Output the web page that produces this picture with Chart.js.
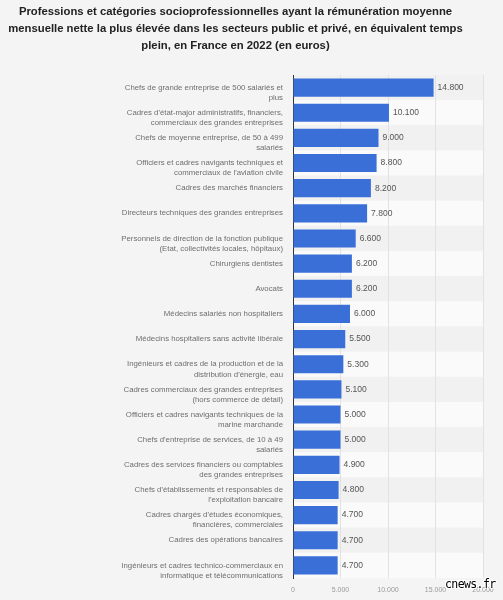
<!DOCTYPE html>
<html>
<head>
<meta charset="utf-8">
<script src="https://cdn.jsdelivr.net/npm/chart.js@4"></script>
<style>
  html, body { margin: 0; padding: 0; background: #f4f4f4; }
  #wrap { position: relative; width: 503px; height: 600px; overflow: hidden; }
  #title { position: absolute; left: 0; top: 3px; width: 471px; text-align: center;
           font-family: "Liberation Sans", Arial, sans-serif; font-weight: bold; font-size: 11.3px;
           line-height: 17.2px; color: #222; }
  #c { position: absolute; left: 0; top: 0; }
  #wm { position: absolute; left: 445px; top: 577px; font-family: "DejaVu Sans Mono", monospace; font-size: 11.5px; color: #000;
        text-shadow: -1px -1px 0 #fff, 1px -1px 0 #fff, -1px 1px 0 #fff, 1px 1px 0 #fff; letter-spacing: -0.6px; }
</style>
</head>
<body>
<div id="wrap">
<canvas id="c" width="503" height="600"></canvas>
<div id="title"></div>
<div id="wm">cnews.fr</div>
</div>
<script>
const titleLines = [
  "Professions et catégories socioprofessionnelles ayant la rémunération moyenne",
  "mensuelle nette la plus élevée dans les secteurs public et privé, en équivalent temps",
  "plein, en France en 2022 (en euros)"
];
const categories = [
  ["Chefs de grande entreprise de 500 salariés et", "plus"],
  ["Cadres d'état-major administratifs, financiers,", "commerciaux des grandes entreprises"],
  ["Chefs de moyenne entreprise, de 50 à 499", "salariés"],
  ["Officiers et cadres navigants techniques et", "commerciaux de l'aviation civile"],
  "Cadres des marchés financiers",
  "Directeurs techniques des grandes entreprises",
  ["Personnels de direction de la fonction publique", "(Etat, collectivités locales, hôpitaux)"],
  "Chirurgiens dentistes",
  "Avocats",
  "Médecins salariés non hospitaliers",
  "Médecins hospitaliers sans activité libérale",
  ["Ingénieurs et cadres de la production et de la", "distribution d'énergie, eau"],
  ["Cadres commerciaux des grandes entreprises", "(hors commerce de détail)"],
  ["Officiers et cadres navigants techniques de la", "marine marchande"],
  ["Chefs d'entreprise de services, de 10 à 49", "salariés"],
  ["Cadres des services financiers ou comptables", "des grandes entreprises"],
  ["Chefs d'établissements et responsables de", "l'exploitation bancaire"],
  ["Cadres chargés d'études économiques,", "financières, commerciales"],
  "Cadres des opérations bancaires",
  ["Ingénieurs et cadres technico-commerciaux en", "informatique et télécommunications"]
];
const salaries = [14800, 10100, 9000, 8800, 8200, 7800, 6600, 6200, 6200, 6000, 5500, 5300, 5100, 5000, 5000, 4900, 4800, 4700, 4700, 4700];
const xTickValues = [0, 5000, 10000, 15000, 20000];

document.getElementById('title').innerHTML = titleLines.join('<br>');

const FONT = "'Liberation Sans', Arial, Helvetica, sans-serif";
function fmt(v) { return String(v).replace(/\B(?=(\d{3})+(?!\d))/g, "."); }
// multi-line labels: first line sits on the bar centre, second line below it
const tickLabels = categories.map(c => Array.isArray(c) ? ["", ...c] : c);

const stripesUnderGrid = {
  id: 'stripesUnderGrid',
  beforeDraw(chart) {
    const {ctx, chartArea: a} = chart;
    if (!a) return;
    const n = categories.length;
    const h = (a.bottom - a.top) / n;
    ctx.save();
    ctx.fillStyle = '#f4f4f4';
    ctx.fillRect(0, 0, chart.width, chart.height);
    for (let i = 0; i < n; i++) {
      ctx.fillStyle = i % 2 === 0 ? '#f1f1f1' : '#fafafa';
      ctx.fillRect(a.left, a.top + i * h, a.right - a.left, h);
    }
    ctx.restore();
  }
};

const valueLabels = {
  id: 'valueLabels',
  afterDatasetsDraw(chart) {
    const {ctx} = chart;
    const meta = chart.getDatasetMeta(0);
    ctx.save();
    ctx.font = "8.5px " + FONT;
    ctx.fillStyle = '#555';
    ctx.textAlign = 'left';
    ctx.textBaseline = 'middle';
    meta.data.forEach((bar, i) => {
      ctx.fillText(fmt(salaries[i]), bar.x + 4, bar.y);
    });
    ctx.restore();
  }
};

new Chart(document.getElementById('c'), {
  type: 'bar',
  data: {
    labels: tickLabels,
    datasets: [{
      data: salaries,
      backgroundColor: '#3a6fd8',
      borderWidth: 0,
      barPercentage: 0.72,
      categoryPercentage: 1.0
    }]
  },
  plugins: [stripesUnderGrid, valueLabels],
  options: {
    indexAxis: 'y',
    responsive: false,
    animation: false,
    devicePixelRatio: 1,
    layout: { padding: { left: 0, right: 20, top: 75, bottom: 0 } },
    plugins: {
      legend: { display: false },
      tooltip: { enabled: false },
      title: { display: false }
    },
    scales: {
      x: {
        min: 0, max: 20000,
        afterBuildTicks(scale) { scale.ticks = xTickValues.map(v => ({value: v})); },
        afterFit(scale) { scale.height = 22; scale.paddingLeft = 0; scale.paddingRight = 0; },
        ticks: {
          color: '#999',
          font: { family: FONT, size: 7 },
          padding: 8,
          maxRotation: 0,
          callback: (v) => fmt(v)
        },
        grid: { color: '#e2e2e2', drawTicks: false, lineWidth: 1 },
        border: { display: false }
      },
      y: {
        afterFit(scale) { scale.width = 293; scale.paddingTop = 0; scale.paddingBottom = 0; },
        ticks: {
          color: '#6e6e6e',
          font: { family: FONT, size: 7.8, lineHeight: 1.3 },
          padding: 10,
          autoSkip: false
        },
        grid: { display: false, drawTicks: false },
        border: { display: true, color: '#333', width: 1 }
      }
    }
  }
});
</script>
</body>
</html>
